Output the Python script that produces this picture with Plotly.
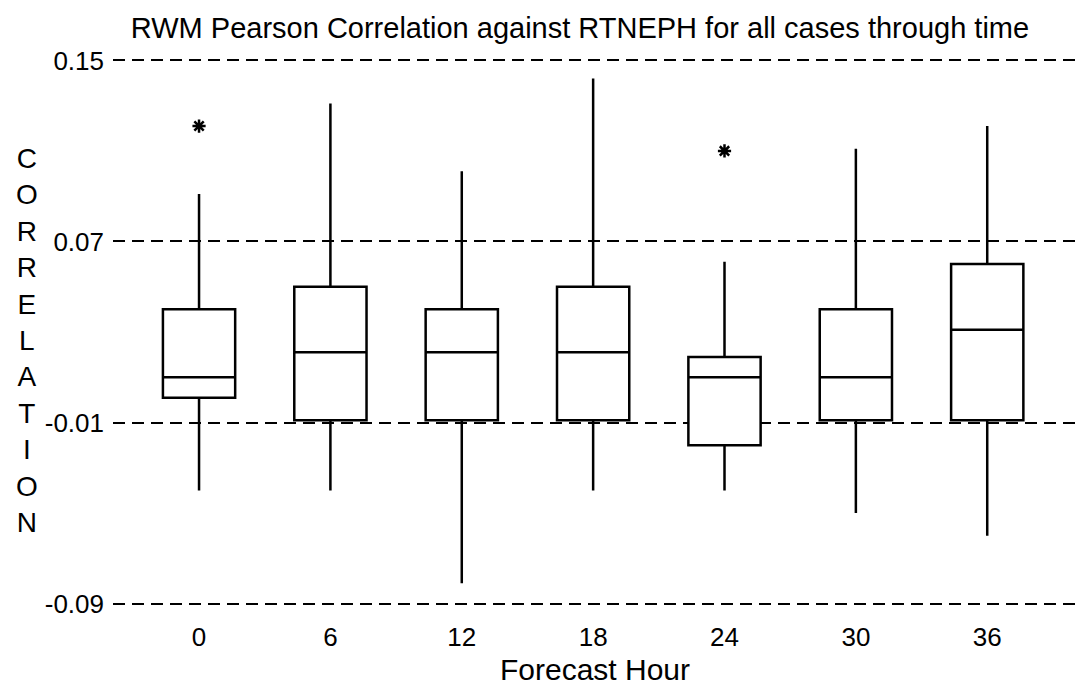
import plotly.graph_objects as go

# Forecast hours and box statistics
hours = [0, 6, 12, 18, 24, 30, 36]
upper = [0.091, 0.131, 0.101, 0.142, 0.061, 0.111, 0.121]
q3 = [0.040, 0.050, 0.040, 0.050, 0.019, 0.040, 0.060]
median = [0.010, 0.021, 0.021, 0.021, 0.010, 0.010, 0.031]
q1 = [0.001, -0.009, -0.009, -0.009, -0.020, -0.009, -0.009]
lower = [-0.040, -0.040, -0.081, -0.040, -0.040, -0.050, -0.060]

# Outliers (asterisks)
out_hours = [0, 24]
out_vals = [0.121, 0.110]

y_ticks = [-0.09, -0.01, 0.07, 0.15]
y_labels = ['-0.09', '-0.01', '0.07', '0.15']

FONT = 'Liberation Sans, Arial, sans-serif'

fig = go.Figure()

fig.add_trace(go.Box(
    x=hours, q1=q1, median=median, q3=q3,
    lowerfence=lower, upperfence=upper,
    width=3.3, whiskerwidth=0, fillcolor='white',
    line=dict(color='black', width=2.5),
    boxpoints=False, showlegend=False, hoverinfo='skip'))

fig.add_trace(go.Scatter(
    x=out_hours, y=out_vals, mode='markers',
    marker=dict(symbol='asterisk-open', size=11, color='black',
                line=dict(color='black', width=2.5)),
    showlegend=False, hoverinfo='skip'))

# vertical stacked axis title
fig.add_annotation(
    text='<br>'.join('CORRELATION'), xref='paper', yref='paper',
    x=-0.089, y=0.485, showarrow=False, xanchor='center', yanchor='middle',
    font=dict(family=FONT, size=28, color='black'))

fig.update_layout(
    width=1077, height=686,
    paper_bgcolor='white', plot_bgcolor='white',
    margin=dict(l=113, r=0, t=57, b=79),
    font=dict(family=FONT, color='black'),
    title=dict(text='RWM Pearson Correlation against RTNEPH for all cases through time',
               x=0.5385, xref='container', xanchor='center',
               y=0.96, yref='container', yanchor='middle',
               font=dict(size=29, color='black')),
    xaxis=dict(range=[-3.93, 40.1], tickvals=hours, showgrid=False,
               zeroline=False, showline=False, ticks='',
               tickfont=dict(size=26), ticklabelstandoff=12,
               title=dict(text='Forecast Hour', font=dict(size=30), standoff=8)),
    yaxis=dict(range=[-0.0915, 0.1515], tickvals=y_ticks, ticktext=y_labels,
               showgrid=True, gridcolor='black', gridwidth=2, griddash='12px,7px',
               zeroline=False, showline=False, ticks='',
               tickfont=dict(size=26), ticklabelstandoff=8),
)

# drop the browser's default page margin so the figure sits at the corner
fig.write_html('out.html', config={'displayModeBar': False},
               post_script="document.body.style.margin='0';")
